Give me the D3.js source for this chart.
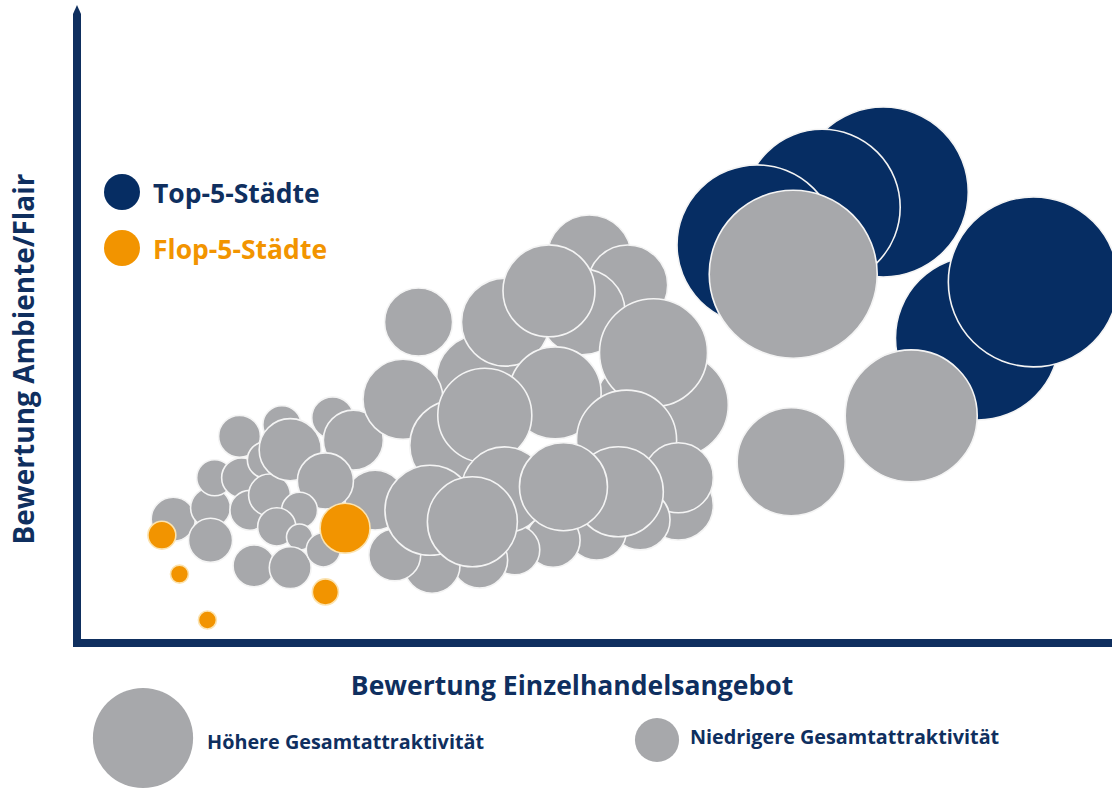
<!doctype html>
<html lang="de">
    <head>
        <meta charset="utf-8">
        <title>Ambiente vs. Einzelhandel</title>
        <script src="https://cdn.jsdelivr.net/npm/d3@7"></script>
        <style>
            body { margin: 0; background: #fff; }
            svg { display: block; font-family: "Open Sans", sans-serif; }
        </style>
    </head>
    <body>
        <script>

            // Bewertung Einzelhandelsangebot (x), Bewertung Ambiente/Flair (y), Gesamtattraktivität (size)
            var einzelhandel = [0.93, 1.29, 1.33, 1.57, 1.59, 1.98, 1.82, 1.67, 1.86, 2.06,
                                2.47, 2.88, 2.67, 2.40, 2.15, 1.93, 2.15, 1.29, 1.71, 2.06,
                                2.38, 4.95, 5.32, 4.88, 3.89, 4.14, 4.56, 5.44, 5.79, 5.57,
                                3.15, 3.30, 3.65, 4.62, 3.94, 5.31, 5.81, 5.81, 5.44, 5.02,
                                4.60, 4.23, 3.89, 3.43, 3.07, 5.23, 4.13, 3.41, 4.70, 3.82,
                                0.82, 0.99, 1.26, 2.40, 2.59,
                                7.79, 7.20, 6.57, 6.92, 8.70, 9.24, 8.06, 6.90];
            var ambiente = [1.94, 2.12, 2.59, 3.24, 2.59, 3.42, 2.87, 2.08, 2.32, 3.03,
                            3.53, 2.24, 3.18, 2.54, 2.08, 1.82, 1.66, 1.61, 1.21, 1.18,
                            1.46, 6.05, 5.61, 5.19, 4.15, 5.03, 5.52, 3.73, 3.73, 4.55,
                            3.82, 5.03, 3.10, 3.92, 3.57, 3.18, 2.16, 2.59, 1.93, 1.77,
                            1.61, 1.46, 1.30, 1.22, 1.38, 2.37, 2.40, 2.08, 2.45, 1.90,
                            1.69, 1.08, 0.36, 0.80, 1.80,
                            7.07, 6.83, 6.24, 5.78, 4.78, 5.66, 3.56, 2.84];
            var attraktivitaet = [6.0, 4.9, 4.0, 5.4, 4.9, 4.5, 4.0, 4.9, 5.4, 11.9,
                                  5.4, 11.1, 11.1, 9.7, 4.0, 4.5, 2.1, 6.0, 5.4, 5.4,
                                  3.6, 21.8, 19.8, 22.8, 22.8, 23.9, 26.1, 25.0, 33.4, 36.0,
                                  19.8, 14.3, 25.0, 26.1, 27.3, 30.9, 15.1, 15.1, 11.1, 11.1,
                                  9.0, 7.7, 9.7, 9.7, 8.3, 25.0, 22.8, 25.0, 23.9, 25.0,
                                  2.4, 1.0, 1.0, 2.1, 7.7,
                                  89.2, 75.1, 79.0, 87.1, 83.0, 89.2, 53.8, 36.0];
            var gruppe = d3.range(50).map(() => "mitte")
                           .concat(["flop", "flop", "flop", "flop", "flop"])
                           .concat(["top", "top", "top", "mitte", "top", "top", "mitte", "mitte"]);

            var gruppenLabels = ["Top-5-Städte", "Flop-5-Städte"];
            var groessenLabels = ["Höhere Gesamtattraktivität", "Niedrigere Gesamtattraktivität"];
            var groessenWerte = [31, 6];

            var farbe = {top: "#062d63", flop: "#f29400", mitte: "#a7a8ab"};
            var navy = "#0f2f5f";

            var svgW = 1112;
            var svgH = 789;
            var plot = {left: 77, right: 1112, top: 5, bottom: 643};

            var data = einzelhandel.map((x, i) => ({x: x, y: ambiente[i], s: attraktivitaet[i], g: gruppe[i]}));

            var xScale = d3.scaleLinear().domain([0, 10]).range([plot.left, plot.right]);
            var yScale = d3.scaleLinear().domain([0, 10]).range([plot.bottom, plot.top]);
            var rScale = d3.scaleSqrt().domain([0, 100]).range([0, 90]);

            var svg = d3.select("body")
                        .append("svg")
                        .attr("width", svgW)
                        .attr("height", svgH);

            // bubbles
            svg.append("g")
               .selectAll("circle")
               .data(data)
               .enter()
               .append("circle")
               .attr("cx", d => xScale(d.x))
               .attr("cy", d => yScale(d.y))
               .attr("r", d => rScale(d.s))
               .attr("fill", d => farbe[d.g])
               .attr("stroke", d => d.g == "flop" ? "#fbe3b0" : "#f4f4f4")
               .attr("stroke-width", 1.6);

            // axes
            var ax0 = xScale(0);
            var ay0 = yScale(0);
            var aw = 4;
            svg.append("path")
               .attr("d", "M" + (ax0 - aw) + "," + (ay0 + aw) +
                          "L" + (ax0 - aw) + "," + (yScale(10) + 9) +
                          "L" + ax0 + "," + yScale(10) +
                          "L" + (ax0 + aw) + "," + (yScale(10) + 9) +
                          "L" + (ax0 + aw) + "," + (ay0 + aw) + "Z")
               .attr("fill", navy);
            svg.append("rect")
               .attr("x", ax0 - aw)
               .attr("y", ay0 - aw)
               .attr("width", xScale(10) - ax0 + aw)
               .attr("height", aw * 2)
               .attr("fill", navy);

            // axis titles
            svg.append("text")
               .attr("transform", "translate(34," + 359 + ") rotate(-90)")
               .attr("text-anchor", "middle")
               .attr("font-size", "28px")
               .attr("font-weight", "bold")
               .attr("fill", navy)
               .text("Bewertung Ambiente/Flair");
            svg.append("text")
               .attr("x", 572)
               .attr("y", 695)
               .attr("text-anchor", "middle")
               .attr("font-size", "26.5px")
               .attr("font-weight", "bold")
               .attr("fill", navy)
               .text("Bewertung Einzelhandelsangebot");

            // group legend
            var leg = svg.append("g");
            leg.selectAll("circle")
               .data(gruppenLabels)
               .enter()
               .append("circle")
               .attr("cx", 122)
               .attr("cy", (_, i) => 192 + i * 56)
               .attr("r", 18)
               .attr("fill", (_, i) => i == 0 ? farbe.top : farbe.flop);
            leg.selectAll("text")
               .data(gruppenLabels)
               .enter()
               .append("text")
               .attr("x", 153)
               .attr("y", (_, i) => 203 + i * 56)
               .attr("font-size", "26.5px")
               .attr("font-weight", "bold")
               .attr("fill", (_, i) => i == 0 ? navy : farbe.flop)
               .text(d => d);

            // size legend
            var sizeLeg = svg.append("g");
            var sizePos = [{cx: 143, cy: 738, tx: 207, ty: 749}, {cx: 657, cy: 740, tx: 690, ty: 744}];
            sizeLeg.selectAll("circle")
                   .data(groessenWerte)
                   .enter()
                   .append("circle")
                   .attr("cx", (_, i) => sizePos[i].cx)
                   .attr("cy", (_, i) => sizePos[i].cy)
                   .attr("r", d => rScale(d))
                   .attr("fill", farbe.mitte);
            sizeLeg.selectAll("text")
                   .data(groessenLabels)
                   .enter()
                   .append("text")
                   .attr("x", (_, i) => sizePos[i].tx)
                   .attr("y", (_, i) => sizePos[i].ty)
                   .attr("font-size", "19.8px")
                   .attr("font-weight", "bold")
                   .attr("fill", navy)
                   .text(d => d);

        </script>
    </body>
</html>
